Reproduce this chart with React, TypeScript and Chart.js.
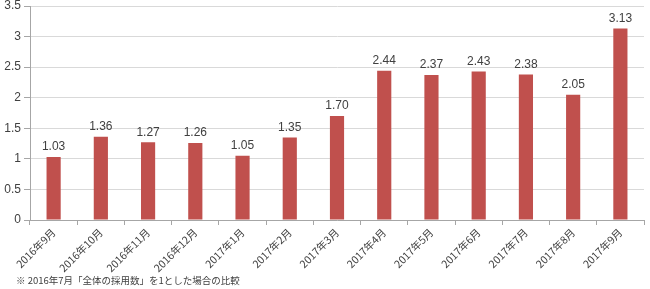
import React, { useEffect, useRef } from "react";
import { Chart, registerables } from "chart.js";

Chart.register(...registerables);

const categories = [
  "2016年9月", "2016年10月", "2016年11月", "2016年12月", "2017年1月", "2017年2月",
  "2017年3月", "2017年4月", "2017年5月", "2017年6月", "2017年7月", "2017年8月", "2017年9月",
];
const values = [1.03, 1.36, 1.27, 1.26, 1.05, 1.35, 1.70, 2.44, 2.37, 2.43, 2.38, 2.05, 3.13];
const footnote = "※ 2016年7月「全体の採用数」を1とした場合の比較";

const FONT = "'Noto Sans CJK JP', 'Liberation Sans', sans-serif";

const labelPlugin = {
  id: "labels",
  afterDatasetsDraw(chart: any) {
    const ctx = chart.ctx;
    const meta = chart.getDatasetMeta(0);
    ctx.save();
    ctx.font = "12px 'Liberation Sans', sans-serif";
    ctx.fillStyle = "#404040";
    ctx.textAlign = "center";
    ctx.textBaseline = "bottom";
    meta.data.forEach((bar: any, i: number) => {
      ctx.fillText(values[i].toFixed(2), bar.x, bar.y - 4);
    });
    ctx.font = "9.5px " + FONT;
    ctx.textAlign = "left";
    ctx.textBaseline = "middle";
    ctx.fillStyle = "#404040";
    ctx.fillText(footnote, 16, 280);
    ctx.restore();
  },
};

export default function App() {
  const ref = useRef<HTMLCanvasElement>(null);
  useEffect(() => {
    const chart = new Chart(ref.current!, {
      type: "bar",
      data: {
        labels: categories,
        datasets: [{ data: values, backgroundColor: "#c0504d", barPercentage: 0.3, categoryPercentage: 1 }],
      },
      options: {
        animation: false,
        responsive: false,
        maintainAspectRatio: false,
        layout: { padding: { top: 1, right: 6, left: 3, bottom: 0 } },
        plugins: { legend: { display: false }, tooltip: { enabled: false } },
        scales: {
          x: {
            offset: true,
            grid: { display: true, drawOnChartArea: false, offset: true, tickLength: 5, color: "#a6a6a6" },
            border: { color: "#a6a6a6" },
            ticks: { maxRotation: 45, minRotation: 45, color: "#404040", font: { size: 10.5, family: FONT }, padding: 1 },
            afterFit(s: any) { s.height = 69; },
          },
          y: {
            min: 0, max: 3.5,
            ticks: {
              stepSize: 0.5, color: "#404040", font: { size: 12, family: "'Liberation Sans', sans-serif" }, padding: 3,
              callback: (v: any) => String(v),
            },
            grid: { color: "#d9d9d9", tickLength: 6, tickColor: "#a6a6a6" },
            border: { color: "#a6a6a6" },
            afterFit(s: any) { s.width = 27; s.paddingTop = 6; s.paddingBottom = 0; },
          },
        },
      },
      plugins: [labelPlugin],
    });
    return () => chart.destroy();
  }, []);
  return (
    <div style={{ position: "absolute", left: 0, top: 0, width: 650, height: 289, background: "#fff" }}>
      <canvas ref={ref} width={650} height={289} />
    </div>
  );
}
